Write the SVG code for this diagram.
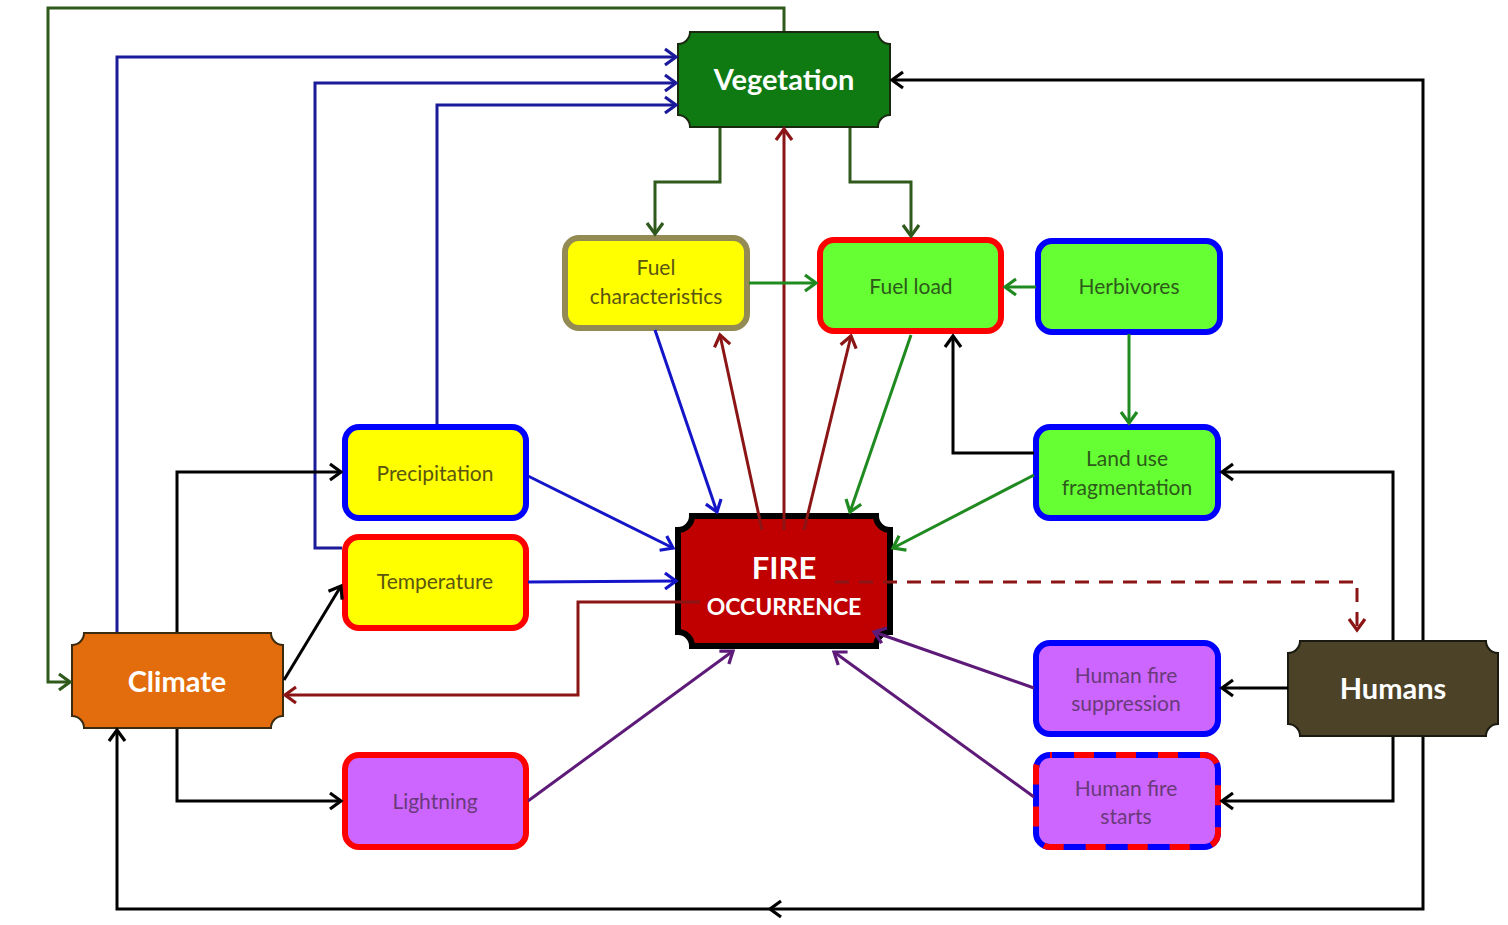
<svg xmlns="http://www.w3.org/2000/svg" width="1508" height="925" viewBox="0 0 1508 925">
<defs>
<marker id="ak" markerUnits="userSpaceOnUse" markerWidth="20" markerHeight="20" refX="15" refY="10" orient="auto"><path d="M4,2 L15,10 L4,18" fill="none" stroke="#000" stroke-width="3.2"/></marker>
<marker id="ab" markerUnits="userSpaceOnUse" markerWidth="20" markerHeight="20" refX="15" refY="10" orient="auto"><path d="M4,2 L15,10 L4,18" fill="none" stroke="#1414c8" stroke-width="3.2"/></marker>
<marker id="adb" markerUnits="userSpaceOnUse" markerWidth="20" markerHeight="20" refX="15" refY="10" orient="auto"><path d="M4,2 L15,10 L4,18" fill="none" stroke="#1a1a9a" stroke-width="3.2"/></marker>
<marker id="ar" markerUnits="userSpaceOnUse" markerWidth="20" markerHeight="20" refX="15" refY="10" orient="auto"><path d="M4,2 L15,10 L4,18" fill="none" stroke="#8b1515" stroke-width="3.2"/></marker>
<marker id="ag" markerUnits="userSpaceOnUse" markerWidth="20" markerHeight="20" refX="15" refY="10" orient="auto"><path d="M4,2 L15,10 L4,18" fill="none" stroke="#1f8a1f" stroke-width="3.2"/></marker>
<marker id="adg" markerUnits="userSpaceOnUse" markerWidth="20" markerHeight="20" refX="15" refY="10" orient="auto"><path d="M4,2 L15,10 L4,18" fill="none" stroke="#2f5a1c" stroke-width="3.2"/></marker>
<marker id="ap" markerUnits="userSpaceOnUse" markerWidth="20" markerHeight="20" refX="15" refY="10" orient="auto"><path d="M4,2 L15,10 L4,18" fill="none" stroke="#5e1a78" stroke-width="3.2"/></marker>
</defs>
<style>
.c{fill:none;stroke-width:3;stroke-linejoin:miter}
.k{stroke:#000;marker-end:url(#ak)}
.b{stroke:#1414c8;marker-end:url(#ab)}
.db{stroke:#1a1a9a;marker-end:url(#adb)}
.r{stroke:#8b1515;marker-end:url(#ar)}
.g{stroke:#1f8a1f;marker-end:url(#ag)}
.dg{stroke:#2f5a1c;marker-end:url(#adg)}
.p{stroke:#5e1a78;marker-end:url(#ap)}
.big{font-family:Lato,"Open Sans",sans-serif;font-weight:bold;fill:#fff;text-anchor:middle}
.sm{font-family:Lato,"Open Sans",sans-serif;font-size:21px;text-anchor:middle}
.ty{fill:#5a5510}
.tg{fill:#2d5a1a}
.tp{fill:#6a3a7a}
</style>
<rect width="1508" height="925" fill="#fff"/>

<g id="vegetation">
<path d="M690,32 L878,32 A12,12 0 0 0 890,44 L890,115 A12,12 0 0 0 878,127 L690,127 A12,12 0 0 0 678,115 L678,44 A12,12 0 0 0 690,32 Z" fill="#0f7a12" stroke="#1a2a10" stroke-width="2"/>
<text class="big" x="784" y="90" font-size="29">Vegetation</text>
</g>
<g id="climate">
<path d="M84,633 L271,633 A12,12 0 0 0 283,645 L283,716 A12,12 0 0 0 271,728 L84,728 A12,12 0 0 0 72,716 L72,645 A12,12 0 0 0 84,633 Z" fill="#e36c0c" stroke="#3a2a10" stroke-width="2"/>
<text class="big" x="177" y="692" font-size="29">Climate</text>
</g>
<g id="humans">
<path d="M1300,641 L1486,641 A12,12 0 0 0 1498,653 L1498,724 A12,12 0 0 0 1486,736 L1300,736 A12,12 0 0 0 1288,724 L1288,653 A12,12 0 0 0 1300,641 Z" fill="#4b4228" stroke="#1a1a10" stroke-width="2"/>
<text class="big" x="1393" y="699" font-size="29">Humans</text>
</g>
<g id="fire">
<path d="M692,516 L876,516 A14,14 0 0 0 890,530 L890,632 A14,14 0 0 0 876,646 L692,646 A14,14 0 0 0 678,632 L678,530 A14,14 0 0 0 692,516 Z" fill="#c00000" stroke="#000" stroke-width="6"/>
<text class="big" x="784" y="579" font-size="31">FIRE</text>
<text class="big" x="784" y="615" font-size="23">OCCURRENCE</text>
</g>
<g id="fuel-characteristics">
<rect x="565" y="238" width="182" height="90" rx="14" fill="#ffff00" stroke="#948a54" stroke-width="6"/>
<text class="sm ty" x="656" y="275">Fuel</text>
<text class="sm ty" x="656" y="304">characteristics</text>
</g>
<g id="fuel-load">
<rect x="820" y="240" width="181" height="91" rx="14" fill="#66ff33" stroke="#ff0000" stroke-width="6"/>
<text class="sm tg" x="911" y="294">Fuel load</text>
</g>
<g id="herbivores">
<rect x="1038" y="241" width="182" height="91" rx="14" fill="#66ff33" stroke="#0000ff" stroke-width="6"/>
<text class="sm tg" x="1129" y="294">Herbivores</text>
</g>
<g id="land-use">
<rect x="1036" y="427" width="182" height="91" rx="14" fill="#66ff33" stroke="#0000ff" stroke-width="6"/>
<text class="sm tg" x="1127" y="466">Land use</text>
<text class="sm tg" x="1127" y="495">fragmentation</text>
</g>
<g id="precipitation">
<rect x="345" y="427" width="181" height="91" rx="14" fill="#ffff00" stroke="#0000ff" stroke-width="6"/>
<text class="sm ty" x="435" y="481">Precipitation</text>
</g>
<g id="temperature">
<rect x="345" y="537" width="181" height="91" rx="14" fill="#ffff00" stroke="#ff0000" stroke-width="6"/>
<text class="sm ty" x="435" y="589">Temperature</text>
</g>
<g id="lightning">
<rect x="345" y="755" width="181" height="92" rx="14" fill="#cc66ff" stroke="#ff0000" stroke-width="6"/>
<text class="sm tp" x="435" y="809">Lightning</text>
</g>
<g id="human-fire-suppression">
<rect x="1036" y="643" width="182" height="91" rx="14" fill="#cc66ff" stroke="#0000ff" stroke-width="6"/>
<text class="sm tp" x="1126" y="683">Human fire</text>
<text class="sm tp" x="1126" y="711">suppression</text>
</g>
<g id="human-fire-starts">
<rect x="1036" y="755" width="182" height="92" rx="14" fill="#cc66ff" stroke="#0000ff" stroke-width="6"/>
<rect x="1036" y="755" width="182" height="92" rx="14" fill="none" stroke="#ff0000" stroke-width="6" stroke-dasharray="20 22" stroke-dashoffset="-24"/>
<text class="sm tp" x="1126" y="796">Human fire</text>
<text class="sm tp" x="1126" y="824">starts</text>
</g>

<g id="connectors">
<polyline class="c dg" points="784,31 784,8 48,8 48,682 70,682"/>
<polyline class="c db" points="117,632 117,57 676,57"/>
<polyline class="c db" points="342,548 315,548 315,83 676,83"/>
<polyline class="c db" points="437,424 437,105 676,105"/>
<polyline class="c k" points="1423,640 1423,80 892,80"/>
<polyline class="c k" points="1423,737 1423,909 770,909"/>
<polyline class="c k" points="772,909 117,909 117,730"/>
<polyline class="c k" points="1393,640 1393,472 1222,472"/>
<polyline class="c k" points="1393,737 1393,801 1222,801"/>
<line class="c k" x1="1288" y1="688" x2="1222" y2="688"/>
<polyline class="c k" points="177,632 177,472 341,472"/>
<line class="c k" x1="284" y1="680" x2="341" y2="586"/>
<polyline class="c k" points="177,729 177,801 341,801"/>
<polyline class="c k" points="1034,453 953,453 953,336"/>
<polyline class="c r" points="700,602 578,602 578,695 285,695"/>
<polyline class="c r" points="835,582 1357,582 1357,630" stroke-dasharray="14 10"/>
<line class="c r" x1="784" y1="530" x2="784" y2="129"/>
<line class="c r" x1="762" y1="530" x2="720" y2="335"/>
<line class="c r" x1="804" y1="530" x2="851" y2="336"/>
<polyline class="c dg" points="720,128 720,182 655,182 655,234"/>
<polyline class="c dg" points="850,128 850,182 911,182 911,236"/>
<line class="c g" x1="749" y1="283" x2="816" y2="283"/>
<line class="c g" x1="1036" y1="287" x2="1005" y2="287"/>
<line class="c g" x1="1129" y1="334" x2="1129" y2="423"/>
<line class="c g" x1="911" y1="335" x2="850" y2="512"/>
<line class="c g" x1="1034" y1="475" x2="893" y2="548"/>
<line class="c b" x1="655" y1="330" x2="717" y2="512"/>
<line class="c b" x1="528" y1="476" x2="673" y2="548"/>
<line class="c b" x1="528" y1="582" x2="676" y2="581"/>
<line class="c p" x1="528" y1="801" x2="733" y2="651"/>
<line class="c p" x1="1034" y1="688" x2="874" y2="632"/>
<line class="c p" x1="1034" y1="797" x2="834" y2="652"/>
</g>
</svg>
